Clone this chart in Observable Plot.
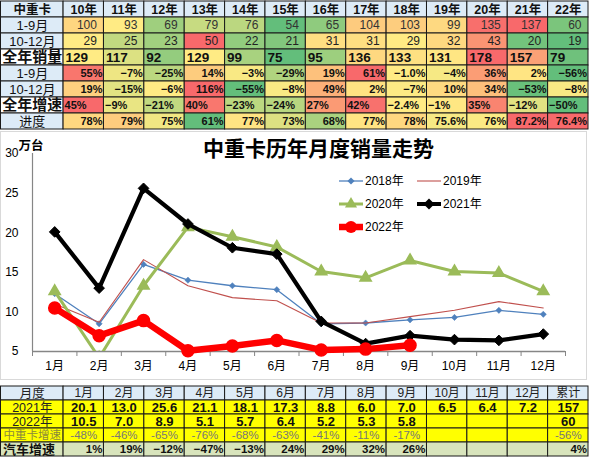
<!DOCTYPE html>
<html><head><meta charset="utf-8">
<script src="https://cdn.jsdelivr.net/npm/d3@7"></script>
<script src="https://cdn.jsdelivr.net/npm/@observablehq/plot@0.6"></script>
<style>
body{margin:0;background:#fff;font-family:"Liberation Sans","Noto Sans CJK SC",sans-serif;}
#wrap{width:592px;height:461px;position:relative;overflow:hidden;background:#fff}
.blk{position:absolute;left:0}
svg{display:block}
.leg{position:absolute;display:flex;align-items:center;font-size:12px;height:14px;line-height:14px;color:#000;font-family:"Liberation Sans","Noto Sans CJK SC",sans-serif}
.leg svg{margin-right:2px}
#frame{position:absolute;left:0;top:1px;width:587px;height:249px;border:1px solid #d9d9d9;box-sizing:border-box;pointer-events:none}
</style></head><body><div id="wrap"></div>
<script>
// ---------- top table data ----------
const years = ["10年","11年","12年","13年","14年","15年","16年","17年","18年","19年","20年","21年","22年"];
const sales19 = [100,93,69,79,76,54,65,104,103,99,135,137,60];
const sales1012 = [29,25,23,50,22,21,31,31,29,32,43,20,19];
const salesYear = [129,117,92,129,99,75,95,136,133,131,178,157,79];
const growth19 = ["55%","−7%","−25%","14%","−3%","−29%","19%","61%","−1.0%","−4%","36%","2%","−56%"];
const growth1012 = ["19%","−15%","−6%","116%","−55%","−8%","49%","2%","−7%","10%","34%","−53%","−8%"];
const growthYear = ["45%","−9%","−21%","40%","−23%","−24%","27%","42%","−2.4%","−1%","35%","−12%","−50%"];
const progress = ["78%","79%","75%","61%","77%","73%","68%","77%","78%","75.6%","76%","87.2%","76.4%"];
const topRowLabels = ["中重卡","1-9月","10-12月","全年销量","1-9月","10-12月","全年增速","进度"];

// ---------- chart data ----------
const months = [1,2,3,4,5,6,7,8,9,10,11,12];
const monthLabels = ["1月","2月","3月","4月","5月","6月","7月","8月","9月","10月","11月","12月"];
const yTicks = [5,10,15,20,25,30];
const s2018 = [12.3,8.5,16.0,14.0,13.3,12.8,8.5,8.6,9.0,9.3,10.2,9.7];
const s2019 = [11.0,8.7,16.6,13.3,11.8,11.4,8.6,8.6,9.4,10.2,11.3,10.5];
const s2020 = [12.6,4.2,13.3,20.7,19.5,18.2,15.1,14.3,16.5,15.1,14.9,12.6];
const s2021 = [20.1,13.0,25.6,21.1,18.1,17.3,8.8,6.0,7.0,6.5,6.4,7.2];
const s2022 = [10.5,7.0,8.9,5.1,5.7,6.4,5.2,5.3,5.8];
const seriesNames = ["2018年","2019年","2020年","2021年","2022年"];
const chartTitle = "中重卡历年月度销量走势";
const unitLabel = "万台";

// ---------- bottom table data ----------
const bottomHeader = ["1月","2月","3月","4月","5月","6月","7月","8月","9月","10月","11月","12月","累计"];
const b2021 = ["20.1","13.0","25.6","21.1","18.1","17.3","8.8","6.0","7.0","6.5","6.4","7.2","157"];
const b2022 = ["10.5","7.0","8.9","5.1","5.7","6.4","5.2","5.3","5.8","","","","60"];
const bGrowth = ["-48%","-46%","-65%","-76%","-68%","-63%","-41%","-11%","-17%","","","","-56%"];
const bAuto = ["1%","19%","−12%","−47%","−13%","24%","29%","32%","26%","","","","4%"];
const bottomRowLabels = ["月度","2021年","2022年","中重卡增速","汽车增速"];

// ---------- helpers ----------
const FONT = '"Liberation Sans","Noto Sans CJK SC",sans-serif';
const LBL = 1.55;
const num = s => typeof s === "number" ? s : parseFloat(String(s).replace("−","-"));
function heat(vals){
  const s = vals.map(num).sort((a,b)=>a-b);
  return d3.scaleLinear().domain([s[0], d3.quantile(s,0.5), s[s.length-1]])
    .range(["#63BE7B","#FFEB84","#F8696B"]).clamp(true);
}
const wrap = document.getElementById("wrap");
function place(node, top){ const d=document.createElement("div"); d.className="blk"; d.style.top=top+"px"; d.appendChild(node); wrap.appendChild(d); return d; }

function tableMarks(cells, texts){
  const marks = [Plot.barX(cells, {x1:"x1", x2:"x2", y:"row", fill:"fill", stroke:"#1a1a1a", strokeWidth:1})];
  const groups = d3.groups(texts, t => [t.anchor,t.dx,t.size,t.weight,t.color].join("|"));
  for (const [, g] of groups){
    const t0 = g[0];
    marks.push(Plot.text(g, {x:"x", y:"row", text:"text", textAnchor:t0.anchor, dx:t0.dx, fontSize:t0.size, fontWeight:t0.weight, fill:t0.color}));
  }
  return marks;
}
function txt(row, i, text, st){
  const x = i < 0 ? (st.anchor==="middle" ? -LBL/2 : st.anchor==="start" ? -LBL : 0)
                  : (st.anchor==="middle" ? i+0.5 : st.anchor==="start" ? i : i+1);
  return {row, x, text, anchor:st.anchor, dx:st.dx||0, size:st.size, weight:st.weight||"normal", color:st.color||"#111"};
}

// ---------- top table ----------
{
  const rows = [years, sales19, sales1012, salesYear, growth19, growth1012, growthYear, progress];
  const valStyle = [
    {anchor:"middle", size:12.5, weight:"bold"},
    {anchor:"end", size:12, dx:-7, color:"#333"},
    {anchor:"end", size:12, dx:-7, color:"#222"},
    {anchor:"start", size:13.5, weight:"bold", dx:2},
    {anchor:"end", size:11, weight:"bold", dx:-1.5},
    {anchor:"end", size:11, weight:"bold", dx:-1.5},
    {anchor:"start", size:11, weight:"bold", dx:1},
    {anchor:"end", size:11, weight:"bold", dx:-1.5}
  ];
  const cells = [], texts = [];
  rows.forEach((vals, r) => {
    const big = (r===3 || r===6);
    cells.push({row:r, x1:-LBL, x2:0, fill: big ? "#ffffff" : "#DDEBF7"});
    texts.push(txt(r, -1, topRowLabels[r], big ? {anchor:"middle", size:15, weight:"bold"} : {anchor:"middle", size: r===0?12.5:13, weight: r===0?"bold":"normal"}));
    const scale = r>0 ? heat(vals) : null;
    vals.forEach((v, i) => {
      let fill = r===0 ? "#DDEBF7" : scale(num(v));
      if (r===7 && i===vals.length-1) fill = scale(num(progress[11])); // current-year progress highlighted
      cells.push({row:r, x1:i, x2:i+1, fill});
      texts.push(txt(r, i, String(v), valStyle[r]));
    });
  });
  const p = Plot.plot({
    width:592, height:130, marginTop:0.5, marginBottom:1.5, marginLeft:0.5, marginRight:4,
    x:{type:"linear", domain:[-LBL,13], axis:null},
    y:{type:"band", domain:d3.range(8), padding:0, axis:null},
    color:{type:"identity"},
    style:{fontFamily:FONT, background:"transparent"},
    marks: tableMarks(cells, texts)
  });
  place(p, 0);
}

// ---------- chart ----------
{
  const ser = a => a.map((v,i)=>({m:months[i], v}));
  const gray = "#868686";
  const boundaries = d3.range(0, 13).map(i => i + 0.5);
  const p = Plot.plot({
    width:592, height:255, marginTop:23, marginBottom:34, marginLeft:32, marginRight:27,
    x:{type:"linear", domain:[0.5,12.5], label:null},
    y:{type:"linear", domain:[5,30], label:null},
    style:{fontFamily:FONT, fontSize:"12px", background:"transparent", color:"#000"},
    marks:[
      Plot.axisY(yTicks, {tickSize:0, tickPadding:14, fontSize:12, label:null}),
      Plot.axisX(boundaries, {tickSize:5, tickFormat:()=>"", stroke:gray, label:null}),
      Plot.axisX(months, {tickSize:0, tickPadding:10, fontSize:12, tickFormat:m=>monthLabels[m-1], label:null}),
      Plot.ruleX([0.5], {stroke:gray, strokeWidth:1.2}),
      Plot.ruleY([5], {stroke:gray, strokeWidth:1.5}),
      Plot.line(ser(s2018), {x:"m", y:"v", stroke:"#4F81BD", strokeWidth:1.3}),
      Plot.dot(ser(s2018), {x:"m", y:"v", symbol:"diamond2", r:2.8, fill:"#4F81BD", stroke:"#4F81BD", strokeWidth:0.5}),
      Plot.line(ser(s2019), {x:"m", y:"v", stroke:"#C0504D", strokeWidth:1.1}),
      Plot.line(ser(s2020), {x:"m", y:"v", stroke:"#9BBB59", strokeWidth:3, clip:true}),
      Plot.dot(ser(s2020), {x:"m", y:"v", symbol:"triangle", r:4.2, fill:"#9BBB59", stroke:"#9BBB59", clip:true}),
      Plot.line(ser(s2021), {x:"m", y:"v", stroke:"#000", strokeWidth:4.2}),
      Plot.dot(ser(s2021), {x:"m", y:"v", symbol:"diamond2", r:4.8, fill:"#000", stroke:"#000", strokeWidth:1}),
      Plot.line(ser(s2022), {x:"m", y:"v", stroke:"#FF0000", strokeWidth:6.5}),
      Plot.dot(ser(s2022), {x:"m", y:"v", r:6, fill:"#FF0000", stroke:"#FF0000"}),
      Plot.text([chartTitle], {text:d=>d, frameAnchor:"top", dx:19.5, dy:-4.5, lineAnchor:"middle", fontSize:21, fontWeight:"bold", fill:"#000"}),
      Plot.text([unitLabel], {text:d=>d, frameAnchor:"top-left", dx:-1.5, dy:-8, textAnchor:"middle", lineAnchor:"middle", fontSize:12.5, fontWeight:"bold", fill:"#000"})
    ]
  });
  const holder = place(p, 130);
  holder.style.width = "592px"; holder.style.height = "255px";
  const fr = document.createElement("div"); fr.id = "frame"; holder.appendChild(fr);
  // legend
  const legSpec = [
    {name:seriesNames[0], color:"#4F81BD", w:1.3, marker:"diamond", ms:3.2, left:339, top:51},
    {name:seriesNames[1], color:"#C0504D", w:1.1, marker:null, left:417, top:51},
    {name:seriesNames[2], color:"#9BBB59", w:3, marker:"triangle", ms:4.5, left:339, top:74},
    {name:seriesNames[3], color:"#000", w:4, marker:"diamond", ms:5, left:417, top:74},
    {name:seriesNames[4], color:"#FF0000", w:6.5, marker:"circle", ms:6, left:339, top:97}
  ];
  const ns = "http://www.w3.org/2000/svg";
  for (const s of legSpec){
    const d = document.createElement("div"); d.className="leg";
    d.style.left = s.left+"px"; d.style.top = (s.top-7)+"px";
    const sv = document.createElementNS(ns,"svg"); sv.setAttribute("width",24); sv.setAttribute("height",14);
    const ln = document.createElementNS(ns,"line");
    ln.setAttribute("x1",0); ln.setAttribute("x2",24); ln.setAttribute("y1",7); ln.setAttribute("y2",7);
    ln.setAttribute("stroke",s.color); ln.setAttribute("stroke-width",s.w); sv.appendChild(ln);
    if (s.marker){
      const pth = document.createElementNS(ns,"path");
      const sym = s.marker==="diamond" ? d3.symbolDiamond2 : s.marker==="triangle" ? d3.symbolTriangle : d3.symbolCircle;
      pth.setAttribute("d", d3.symbol(sym, Math.PI*s.ms*s.ms)());
      pth.setAttribute("transform","translate(12,7)"); pth.setAttribute("fill",s.color);
      sv.appendChild(pth);
    }
    d.appendChild(sv);
    const sp = document.createElement("span"); sp.textContent = s.name; d.appendChild(sp);
    holder.appendChild(d);
  }
}

// ---------- bottom table ----------
{
  const rows = [bottomHeader, b2021, b2022, bGrowth, bAuto];
  const fills = ["#DDEBF7","#FFFF00","#FFFF00","#FFFF00","#D8E4BC"];
  const labelStyle = [
    {anchor:"middle", size:12.5, color:"#222"},
    {anchor:"middle", size:12.5, color:"#222"},
    {anchor:"middle", size:12.5, color:"#222"},
    {anchor:"middle", size:11.5, color:"#8a8a3a"},
    {anchor:"start", size:13, weight:"bold", dx:2, color:"#111"}
  ];
  const valStyle = [
    {anchor:"middle", size:12, color:"#222"},
    {anchor:"middle", size:13, weight:"bold", color:"#111"},
    {anchor:"middle", size:13, weight:"bold", color:"#111"},
    {anchor:"middle", size:11.5, color:"#777"},
    {anchor:"end", size:11.5, weight:"bold", dx:-1.5, color:"#111"}
  ];
  const cells = [], texts = [];
  rows.forEach((vals, r) => {
    cells.push({row:r, x1:-LBL, x2:0, fill:fills[r]});
    texts.push(txt(r, -1, bottomRowLabels[r], labelStyle[r]));
    vals.forEach((v,i) => {
      cells.push({row:r, x1:i, x2:i+1, fill:fills[r]});
      if (v !== "") texts.push(txt(r, i, v, valStyle[r]));
    });
  });
  const p = Plot.plot({
    width:592, height:76, marginTop:0.5, marginBottom:4.5, marginLeft:0.5, marginRight:4,
    x:{type:"linear", domain:[-LBL,13], axis:null},
    y:{type:"band", domain:d3.range(5), padding:0, axis:null},
    color:{type:"identity"},
    style:{fontFamily:FONT, background:"transparent"},
    marks: tableMarks(cells, texts)
  });
  place(p, 385);
}
</script></body></html>
